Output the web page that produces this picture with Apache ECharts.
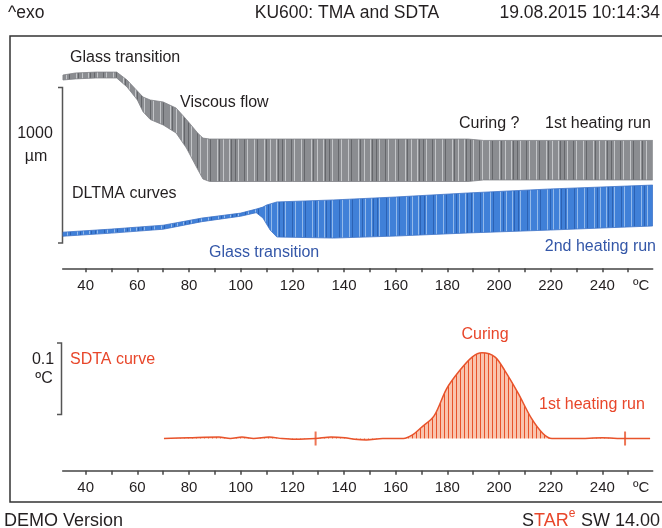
<!DOCTYPE html>
<html><head><meta charset="utf-8">
<script src="https://cdn.jsdelivr.net/npm/echarts@6/dist/echarts.min.js"></script>
<style>html,body{margin:0;padding:0;background:#fff}#c{width:662px;height:528px}</style>
</head><body><div id="c"></div>
<script>
// ---- data ----
const tickValues = [40,50,60,70,80,90,100,110,120,130,140,150,160,170,180,190,200,210,220,230,240,250];
const labelValues = [40,60,80,100,120,140,160,180,200,220,240];
const unitLabelPos = 255;

// DLTMA 1st heating run (gray band), displacement in µm
const run1T      = [31.2, 36, 44, 52, 56, 60, 62.2, 65, 70, 75, 79, 83.5, 85.4, 88, 120, 150, 188, 194, 220, 259.5];
const run1Upper  = [1247,1260,1266,1266,1215,1144,1105,1086,1073,1034,960,870,840,834,834,834,834,825,825,825];
const run1Lower  = [1215,1222,1228,1228,1170,1086,1010,960,925,873,776,634,576,560,560,560,560,570,570,570];

// DLTMA 2nd heating run (blue band)
const run2T      = [31.2, 50, 70, 85, 100, 106, 108.6, 110, 111.4, 114, 136, 160, 188, 220, 259.5];
const run2Upper  = [233,253,278,324,356,382,395,408,415,428,441,460,486,512,537];
const run2Lower  = [207,227,252,301,336,359,325,286,247,202,195,208,228,247,273];

// SDTA curve, °C
const sdtaT = [70.3, 80, 91.6, 96, 100.5, 105, 111, 116, 121, 129, 135, 140.4, 144, 148.6, 155, 163, 166.5, 169.8, 174.8, 179.7, 184.7, 189.6, 193.4, 198.5, 202.3, 207.4, 212.4, 217, 220.5, 230, 240, 248.8, 258.5];
const sdtaV = [0, 0.001, 0.002, 0, 0.002, 0, 0.002, 0, -0.001, 0, 0.002, 0.001, -0.001, -0.002, 0, 0, 0.005, 0.015, 0.031, 0.069, 0.094, 0.113, 0.119, 0.113, 0.094, 0.063, 0.029, 0.007, 0, 0, 0.001, 0, 0];
const sdtaMarkT = [129, 248.8];

// ---- styling helpers ----
function stripePattern(w, base, dark, darkPos, light, lightPos) {
  const c = document.createElement('canvas');
  c.width = w; c.height = 8;
  const g = c.getContext('2d');
  g.fillStyle = base; g.fillRect(0, 0, w, 8);
  g.fillStyle = dark; darkPos.forEach(p => g.fillRect(p, 0, 1, 8));
  g.fillStyle = light; lightPos.forEach(p => g.fillRect(p, 0, 1, 8));
  return { image: c, repeat: 'repeat' };
}
const grayPat = stripePattern(47, '#8b8d91', '#65676b', [0,9,22,31,43], '#c4c6c9', [3,12,19,29,35,41]);
const bluePat = stripePattern(47, '#4080d8', '#2c62b4', [1,10,23,33,44], '#93b9ea', [3,13,20,30,36,42]);
const orangePat = (function(){
  const c = document.createElement('canvas'); c.width = 4; c.height = 4;
  const g = c.getContext('2d');
  g.fillStyle = 'rgba(246,165,130,0.65)'; g.fillRect(0,0,4,4);
  g.fillStyle = '#e8532b'; g.fillRect(0,0,1,4);
  return { image: c, repeat: 'repeat' };
})();

const pairs = (xs, ys) => xs.map((x, i) => [x, ys[i]]);

const FONT = '"Liberation Sans", Arial, sans-serif';
const TXT = '#231f20', BLUE = '#3457a8', ORANGE = '#e8462a';

const measureCtx = document.createElement('canvas').getContext('2d');
function tw(text, size) { measureCtx.font = size + 'px ' + FONT; return measureCtx.measureText(text).width; }

function xAxisDef(gi) {
  return {
    type: 'value', gridIndex: gi, min: 31.1, max: 259.5,
    axisLine: { show: true, onZero: false, lineStyle: { color: '#444', width: 1.5 } },
    axisTick: { show: true, length: 4, customValues: tickValues, lineStyle: { color: '#444', width: 1.5 } },
    axisLabel: { customValues: labelValues.concat([unitLabelPos]), margin: 10, color: TXT, fontSize: 15, fontFamily: FONT,
      formatter: v => v === unitLabelPos ? '\u00baC' : String(v) },
    splitLine: { show: false }
  };
}

function bandSeries(T, up, lo, fill, edge) {
  return {
    type: 'custom', xAxisIndex: 0, yAxisIndex: 0, data: [[T[0], up[0]]], clip: true, silent: true,
    renderItem: function (params, api) {
      const top = T.map((t, i) => api.coord([t, up[i]]));
      const bot = T.map((t, i) => api.coord([t, lo[i]])).reverse();
      return { type: 'polygon', shape: { points: top.concat(bot) },
        style: { fill: fill, stroke: edge, lineWidth: 0.8 } };
    }
  };
}

function txt(text, x, y, opts) {
  return Object.assign({ type: 'text', x: x, y: y, silent: true,
    style: Object.assign({ text: text, fill: TXT, font: '16px ' + FONT, textAlign: 'left', textVerticalAlign: 'middle' }, opts || {}) });
}

// footer "STARe SW 14.00" layout (right aligned at 660)
const FS = 18, rightEdge = 660;
const wSW = tw(' SW 14.00', FS), wE = tw('e', 12), wTAR = tw('TAR', FS), wS = tw('S', FS);
const xSW = rightEdge - wSW, xE = xSW - wE - 0.5, xTAR = xE - wTAR, xS = xTAR - wS;

const chart = echarts.init(document.getElementById('c'), null, { renderer: 'canvas' });
chart.setOption({
  animation: false,
  backgroundColor: '#fff',
  grid: [
    { left: 62.7, width: 590, top: 40, height: 228.3 },
    { left: 62.7, width: 590, top: 326.7, height: 144 }
  ],
  xAxis: [xAxisDef(0), xAxisDef(1)],
  yAxis: [
    { type: 'value', gridIndex: 0, min: 0, max: 1473, show: false },
    { type: 'value', gridIndex: 1, min: -0.0447, max: 0.1553, show: false }
  ],
  series: [
    bandSeries(run1T, run1Upper, run1Lower, grayPat, '#808286'),
    bandSeries(run2T, run2Upper, run2Lower, bluePat, '#3f74c8'),
    { type: 'line', xAxisIndex: 1, yAxisIndex: 1, data: pairs(sdtaT, sdtaV), symbol: 'none', smooth: 0.3,
      lineStyle: { color: '#e8532b', width: 1.5 }, areaStyle: { color: orangePat, opacity: 1 } },
    { type: 'scatter', xAxisIndex: 1, yAxisIndex: 1, data: sdtaMarkT.map(t => [t, 0]), symbol: 'rect', symbolSize: [2, 14],
      itemStyle: { color: '#e8532b' } }
  ],
  graphic: [
    { type: 'rect', silent: true, shape: { x: 10, y: 36, width: 670, height: 466 }, style: { fill: 'none', stroke: '#333', lineWidth: 1.5 } },
    { type: 'polyline', silent: true, shape: { points: [[58,87.5],[62.5,87.5],[62.5,243],[58,243]] }, style: { fill: 'none', stroke: '#555', lineWidth: 1.5 } },
    { type: 'polyline', silent: true, shape: { points: [[57,343],[61.5,343],[61.5,414.5],[57,414.5]] }, style: { fill: 'none', stroke: '#555', lineWidth: 1.5 } },
    txt('^exo', 8, 13, { font: '17.5px ' + FONT }),
    txt('KU600: TMA and SDTA', 347, 13, { font: '17.5px ' + FONT, textAlign: 'center' }),
    txt('19.08.2015 10:14:34', 660, 13, { font: '17.5px ' + FONT, textAlign: 'right' }),
    txt('Glass transition', 70, 58),
    txt('Viscous flow', 180, 103),
    txt('Curing ?', 459, 124),
    txt('1st heating run', 545, 124),
    txt('1000', 35, 134, { textAlign: 'center' }),
    txt('\u00b5m', 36, 157, { textAlign: 'center' }),
    txt('DLTMA curves', 72, 194),
    txt('Glass transition', 209, 253, { fill: BLUE }),
    txt('2nd heating run', 656, 247, { fill: BLUE, textAlign: 'right' }),
    txt('0.1', 43, 360, { textAlign: 'center' }),
    txt('\u00baC', 44, 379, { textAlign: 'center' }),
    txt('SDTA curve', 70, 360, { fill: ORANGE }),
    txt('Curing', 485, 335, { fill: ORANGE, textAlign: 'center' }),
    txt('1st heating run', 539, 405, { fill: ORANGE }),
    txt('DEMO Version', 4, 521, { font: FS + 'px ' + FONT }),
    txt(' SW 14.00', xSW, 521, { font: FS + 'px ' + FONT }),
    txt('e', xE, 514, { font: '12px ' + FONT, fill: ORANGE }),
    txt('TAR', xTAR, 521, { font: FS + 'px ' + FONT, fill: ORANGE }),
    txt('S', xS, 521, { font: FS + 'px ' + FONT })
  ]
});
</script></body></html>
